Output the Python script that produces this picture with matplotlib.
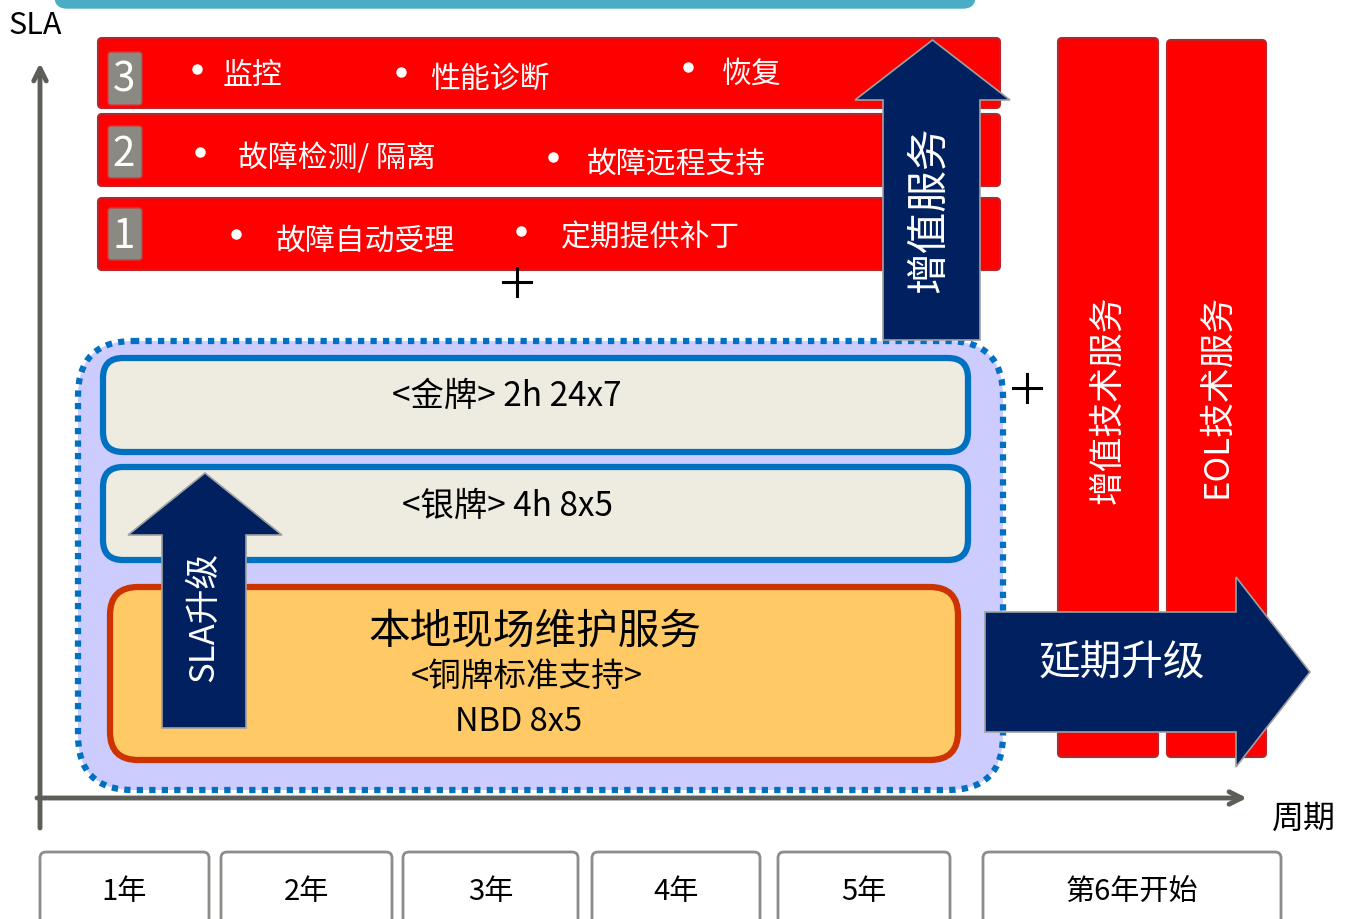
import matplotlib
matplotlib.use('Agg')
import matplotlib.pyplot as plt
from matplotlib.patches import FancyBboxPatch, Polygon

plt.rcParams['font.family'] = ['Noto Sans CJK SC', 'DejaVu Sans']

# labels
row_numbers = ['3', '2', '1']
row_items = [['监控', '性能诊断', '恢复'],
             ['故障检测/ 隔离', '故障远程支持'],
             ['故障自动受理', '定期提供补丁']]
tier_labels = ['<金牌> 2h 24x7', '<银牌> 4h 8x5']
base_lines = ['本地现场维护服务', '<铜牌标准支持>', 'NBD 8x5']
side_labels = ['增值技术服务', 'EOL技术服务']
arrow_labels = ['增值服务', 'SLA升级', '延期升级']
year_labels = ['1年', '2年', '3年', '4年', '5年', '第6年开始']
axis_labels = ['SLA', '周期']

RED = '#FF0000'
RED_EDGE = '#B8262B'
NAVY = '#00205F'
AXIS = '#5E5E58'
DY = 4  # Noto CJK sits a little high with va='center'

fig = plt.figure(figsize=(13.55, 9.19), dpi=100)
ax = fig.add_axes([0, 0, 1, 1])
ax.set_xlim(0, 1355)
ax.set_ylim(919, 0)
ax.axis('off')


def rbox(x0, y0, x1, y1, r, fc, ec, lw=1.0, ls='-', z=2):
    p = FancyBboxPatch((x0, y0), x1 - x0, y1 - y0,
                       boxstyle='round,pad=0,rounding_size=%g' % r,
                       fc=fc, ec=ec, lw=lw, ls=ls, zorder=z)
    ax.add_patch(p)
    return p


def label(x, y, s, size, color='black', rot=0, z=4):
    dx = DY if rot == 90 else 0
    dy = 0 if rot == 90 else DY
    ax.text(x + dx, y + dy, s, color=color, fontsize=size, rotation=rot,
            ha='center', va='center', zorder=z)


def up_arrow(x0, x1, hx0, hx1, ybot, yhead, ytip, z=6):
    pts = [(x0, ybot), (x0, yhead), (hx0, yhead), ((hx0 + hx1) / 2, ytip),
           (hx1, yhead), (x1, yhead), (x1, ybot)]
    ax.add_patch(Polygon(pts, closed=True, fc=NAVY, ec='#A0A0A0', lw=1.2, zorder=z))


# top teal strip
rbox(55, -40, 975, 8, 12, '#4BACC6', '#4BACC6', z=1)

# axes
ax.annotate('', xy=(40, 63), xytext=(40, 828),
            arrowprops=dict(arrowstyle='->,head_length=0.9,head_width=0.45',
                            lw=3.5, color=AXIS, shrinkA=0, shrinkB=0))
ax.annotate('', xy=(1247, 798), xytext=(37, 798),
            arrowprops=dict(arrowstyle='->,head_length=0.9,head_width=0.45',
                            lw=3.5, color=AXIS, shrinkA=0, shrinkB=0))
label(35, 22, axis_labels[0], 22)
label(1304, 815, axis_labels[1], 23)

# red rows
row_y = [(38, 108), (114, 186), (198, 270)]
num_y = [(52, 105), (126, 178), (208, 260)]
item_x = [[(197, 253), (401, 490), (688, 752)],
          [(200, 337), (553, 676)],
          [(236, 365), (521, 651)]]
item_y = [[72, 75, 70], [155, 160], [237, 234]]
for i in range(3):
    y0, y1 = row_y[i]
    rbox(98, y0, 1000, y1, 4, RED, RED_EDGE, lw=1.5)
    n0, n1 = num_y[i]
    rbox(108, n0, 142, n1, 3, '#8A8A82', '#C84040', lw=1.0, z=3)
    label(124, (n0 + n1) / 2 - 2, row_numbers[i], 29, color='white')
    for j, lab in enumerate(row_items[i]):
        bx, tx = item_x[i][j]
        ty = item_y[i][j]
        ax.plot(bx, ty - 3, 'o', color='white', ms=6.5, zorder=4)
        label(tx, ty, lab, 21.5, color='white')

# plus signs
for px, py in [(517, 282), (1027, 388)]:
    ax.plot([px - 14, px + 14], [py, py], color='black', lw=2.2, zorder=4)
    ax.plot([px, px], [py - 14, py + 14], color='black', lw=2.2, zorder=4)

# right vertical red bars
side_x = [(1058, 1158), (1167, 1266)]
side_ty = [400, 396]
for k, (x0, x1) in enumerate(side_x):
    rbox(x0, 38 + k * 2, x1, 757, 4, RED, RED_EDGE, lw=1.5)
    label((x0 + x1) / 2 - 4, side_ty[k], side_labels[k], 25, color='white', rot=90)

# lavender container with dotted border
rbox(78, 341, 1003, 790, 55, '#CCCCFF', '#0070C0', lw=4.5, ls=(0, (1, 1)), z=2)

# gold / silver tiers
tier_y = [(358, 452), (467, 560)]
tier_ty = [392, 502]
for k, (y0, y1) in enumerate(tier_y):
    rbox(103, y0, 968, y1, 20, '#EEECE1', '#0070C0', lw=4.5, z=3)
    label(507, tier_ty[k], tier_labels[k], 24)

# bronze base
rbox(110, 587, 958, 760, 28, '#FFC966', '#CC3300', lw=4.5, z=3)
label(535, 628, base_lines[0], 30)
label(527, 673, base_lines[1], 23.5)
label(519, 718, base_lines[2], 23.5)

# arrows
up_arrow(883, 980, 855, 1010, 340, 100, 40)
label(925, 210, arrow_labels[0], 30, color='white', rot=90, z=7)

up_arrow(162, 246, 128, 282, 728, 535, 473)
label(200, 617, arrow_labels[1], 25, color='white', rot=90, z=7)

pts = [(985, 612), (1236, 612), (1236, 577), (1310, 672), (1236, 767),
       (1236, 732), (985, 732)]
ax.add_patch(Polygon(pts, closed=True, fc=NAVY, ec='#A0A0A0', lw=1.2, zorder=6))
label(1122, 660, arrow_labels[2], 30, color='white', z=7)

# year boxes
year_x = [(40, 209), (221, 392), (403, 578), (592, 760), (778, 950), (983, 1281)]
for k, (x0, x1) in enumerate(year_x):
    rbox(x0, 852, x1, 940, 6, 'white', '#8C8C88', lw=2.0)
    label((x0 + x1) / 2, 888, year_labels[k], 21)

fig.savefig('out.png', dpi=100)
